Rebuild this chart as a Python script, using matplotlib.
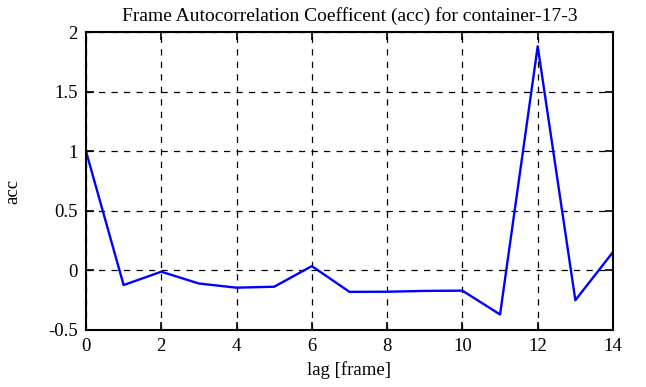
import matplotlib
matplotlib.use("Agg")
import matplotlib.pyplot as plt

lag = [0, 1, 2, 3, 4, 5, 6, 7, 8, 9, 10, 11, 12, 13, 14]
acc = [1.0, -0.123, -0.011, -0.11, -0.145, -0.137, 0.036, -0.18, -0.179,
       -0.172, -0.17, -0.37, 1.88, -0.25, 0.154]

plt.rcParams['font.family'] = ['Liberation Serif', 'DejaVu Serif']

fig = plt.figure(figsize=(6.46, 3.87), dpi=100)
ax = fig.add_axes([0.1331, 0.1473, 0.8158, 0.770])

ax.plot(lag, acc, color='#0000ff', linewidth=1.7)

ax.set_xlim(0, 14)
ax.set_ylim(-0.5, 2)
ax.set_xticks(range(0, 15, 2))
ax.set_yticks([-0.5, 0, 0.5, 1, 1.5, 2])
ax.set_yticklabels(['-0.5', '0', '0.5', '1', '1.5', '2'])
ax.tick_params(direction='in', top=True, right=True, length=6, width=1.2,
               labelsize=13.5, pad=6)
ax.grid(True, color='black', linestyle=(0, (5, 5)), linewidth=0.9)

for s in ax.spines.values():
    s.set_linewidth(1.5)

ax.set_title('Frame Autocorrelation Coefficent (acc) for container-17-3',
             fontsize=14, pad=8)
ax.set_xlabel('lag [frame]', fontsize=13.5, labelpad=4)
ax.set_ylabel('acc', fontsize=13.5)
ax.yaxis.set_label_coords(-0.123, 0.466)

fig.savefig('out.png', dpi=100)
